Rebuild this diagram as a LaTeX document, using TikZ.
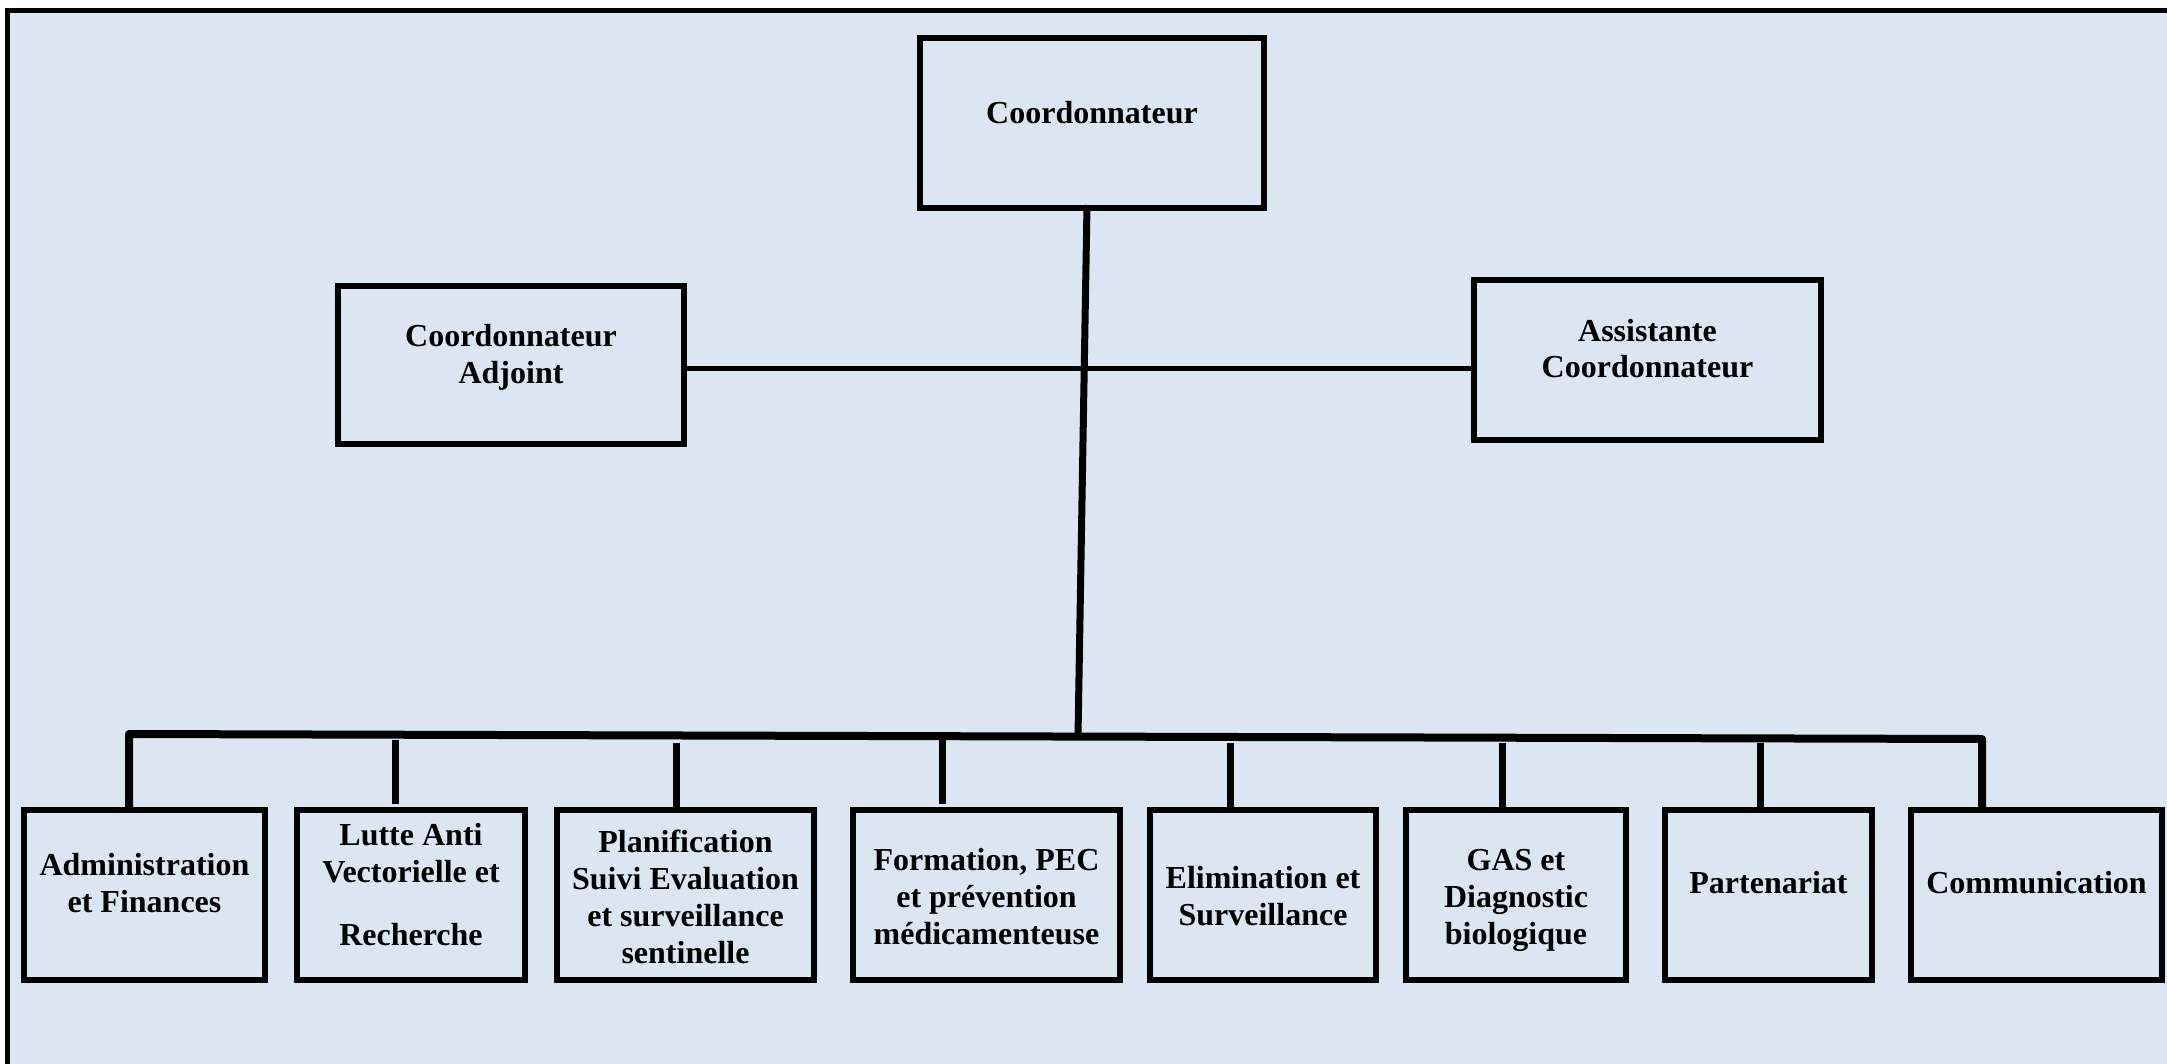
\documentclass[tikz,border=0pt]{standalone}
\usepackage{fontspec}
\setmainfont{Liberation Serif}
\definecolor{bgblue}{HTML}{DCE6F2}
\tikzset{
  box/.style={draw=black, line width=3pt, fill=bgblue, inner sep=0pt, minimum height=85pt},
  txt/.style={anchor=north, inner sep=0pt, align=center, font=\fontsize{16}{18.4}\selectfont\bfseries},
  conn/.style={draw=black, line width=3.5pt},
  thinconn/.style={draw=black, line width=2.5pt},
}
\begin{document}
\begin{tikzpicture}[x=0.5pt,y=-0.5pt]
\useasboundingbox (0,0) rectangle (2167,1064);
\fill[white] (0,0) rectangle (2167,1064);
\draw[line width=2.5pt, fill=bgblue] (7.5,10.5) rectangle (2240,1120);

% top level
\node[box, minimum width=172pt] (coord) at (1092,123) {};
\node[txt] (tcoord) at (1092,97) {\strut Coordonnateur};

\node[box, minimum width=173pt, minimum height=79pt] (adj) at (511,365) {};
\node[txt] (tadj) at (511,320.5) {\strut Coordonnateur\\Adjoint};

\node[box, minimum width=173.5pt, minimum height=80pt] (asst) at (1647.5,360) {};
\node[txt] (tasst) at (1647.5,315) {\strut Assistante\\Coordonnateur};

% bottom row
\node[box, minimum width=120.5pt] (b1) at (144.5,895) {};
\node[txt] (t1) at (144.5,849.5) {\strut Administration\\et Finances};

\node[box, minimum width=114pt] (b2) at (411,895) {};
\node[txt] (t2) at (411,819.5) {\strut Lutte Anti\\Vectorielle et\\[13pt]Recherche};

\node[box, minimum width=128.5pt] (b3) at (685.5,895) {};
\node[txt] (t3) at (685.5,826.5) {\strut Planification\\Suivi Evaluation\\et surveillance\\sentinelle};

\node[box, minimum width=133.5pt] (b4) at (986.5,895) {};
\node[txt] (t4) at (986.5,844.5) {\strut Formation, PEC\\et prévention\\médicamenteuse};

\node[box, minimum width=113pt] (b5) at (1263,895) {};
\node[txt] (t5) at (1263,862.5) {\strut Elimination et\\Surveillance};

\node[box, minimum width=110pt] (b6) at (1516,895) {};
\node[txt] (t6) at (1516,844.5) {\strut GAS et\\Diagnostic\\biologique};

\node[box, minimum width=103.5pt] (b7) at (1768.5,895) {};
\node[txt] (t7) at (1768.5,867.5) {\strut Partenariat};

\node[box, minimum width=125.5pt] (b8) at (2036.5,895) {};
\node[txt] (t8) at (2036.5,867.5) {\strut Communication};

% connectors
\coordinate (hl) at (0,368);
\draw[thinconn] (adj.east |- hl) -- (asst.west |- hl);

\coordinate (junc) at (1078,736);
\draw[conn] ([xshift=-2.5pt,yshift=3pt]coord.south) -- (junc);

\coordinate (busL) at (129,734);
\coordinate (busR) at (1982,739);
\draw[conn, line width=4pt, line join=round] (b1.north -| busL) -- (busL) -- (busR) -- (b8.north -| busR);

\coordinate (s2) at (395,740);
\coordinate (s3) at (676,743);
\coordinate (s4) at (942,740);
\coordinate (s5) at (1230,743);
\coordinate (s6) at (1502,743);
\coordinate (s7) at (1760,743);
\draw[conn, shorten >=1.5pt] (s2) -- (s2 |- b2.north);
\draw[conn] (s3) -- (s3 |- b3.north);
\draw[conn, shorten >=1.5pt] (s4) -- (s4 |- b4.north);
\draw[conn] (s5) -- (s5 |- b5.north);
\draw[conn] (s6) -- (s6 |- b6.north);
\draw[conn] (s7) -- (s7 |- b7.north);
\end{tikzpicture}
\end{document}
